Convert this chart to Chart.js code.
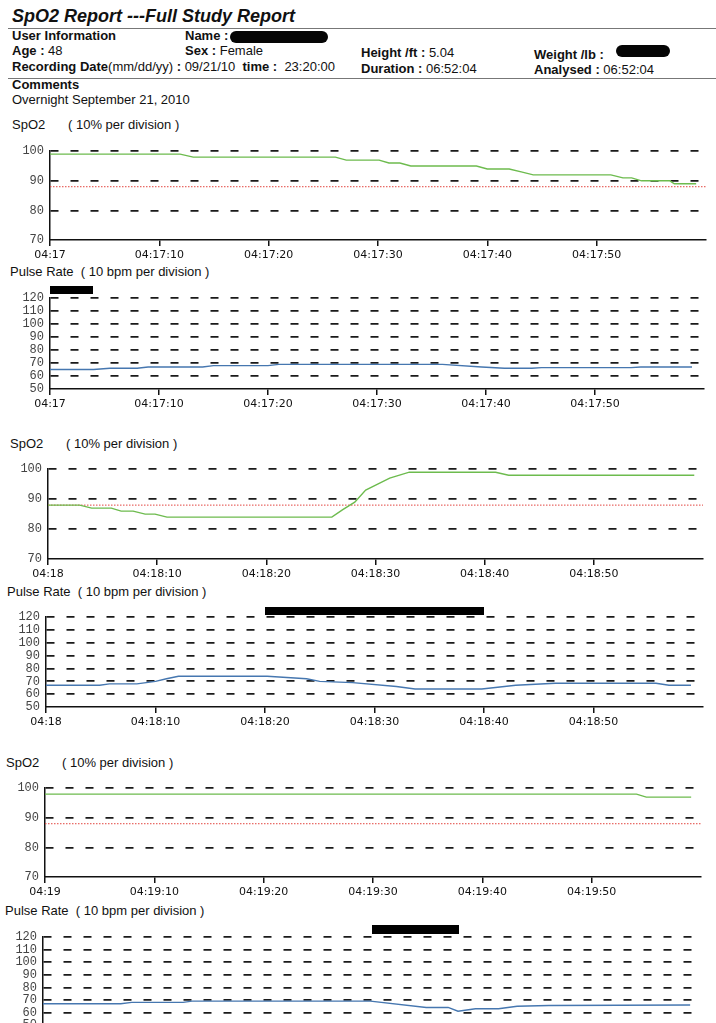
<!DOCTYPE html>
<html>
<head>
<meta charset="utf-8">
<script src="https://cdn.jsdelivr.net/npm/chart.js@4.4.0/dist/chart.umd.min.js"></script>
<style>
  html, body { margin: 0; padding: 0; background: #fff; }
  #page { position: relative; width: 716px; height: 1023px; overflow: hidden;
          font-family: "Liberation Sans", Arial, sans-serif; color: #111; }
  .t { position: absolute; white-space: pre; font-size: 13px; line-height: 16px; }
  .b { font-weight: bold; }
  .rule { position: absolute; height: 0; border-top: 1px solid #777; }
  .blk { position: absolute; background: #000; }
  .blob { position: absolute; background: #050505; border-radius: 7px; }
  canvas { position: absolute; left: 0; }
</style>
</head>
<body>
<div id="page">
  <div class="t b" style="left:12px;top:5px;font-size:18px;line-height:22px;font-style:italic">SpO2 Report ---Full Study Report</div>
  <div class="rule" style="left:8px;top:28px;width:708px"></div>

  <div class="t b" style="left:12px;top:28px">User Information</div>
  <div class="t b" style="left:185px;top:28px">Name :</div>
  <div class="blob" style="left:230px;top:31px;width:98px;height:12px"></div>

  <div class="t" style="left:12px;top:43px"><b>Age :</b> 48</div>
  <div class="t" style="left:185px;top:43px"><b>Sex :</b> Female</div>
  <div class="t" style="left:361px;top:45px"><b>Height /ft :</b> 5.04</div>
  <div class="t" style="left:534px;top:47px"><b>Weight /lb :</b></div>
  <div class="blob" style="left:616px;top:45px;width:54px;height:12px"></div>

  <div class="t" style="left:12px;top:59px"><b>Recording Date</b>(mm/dd/yy)<b> : </b>09/21/10  <b>time : </b> 23:20:00</div>
  <div class="t" style="left:361px;top:61px"><b>Duration :</b> 06:52:04</div>
  <div class="t" style="left:534px;top:62px"><b>Analysed :</b> 06:52:04</div>
  <div class="rule" style="left:8px;top:78px;width:708px"></div>

  <div class="t b" style="left:12px;top:77px">Comments</div>
  <div class="t" style="left:12px;top:92px">Overnight September 21, 2010</div>

  <div class="t" style="left:12px;top:117px">SpO2</div>
  <div class="t" style="left:68px;top:117px">( 10% per division )</div>
  <div class="t" style="left:10px;top:264px">Pulse Rate  ( 10 bpm per division )</div>

  <div class="t" style="left:10px;top:436px">SpO2</div>
  <div class="t" style="left:66px;top:436px">( 10% per division )</div>
  <div class="t" style="left:7px;top:584px">Pulse Rate  ( 10 bpm per division )</div>

  <div class="t" style="left:6px;top:755px">SpO2</div>
  <div class="t" style="left:62px;top:755px">( 10% per division )</div>
  <div class="t" style="left:5px;top:903px">Pulse Rate  ( 10 bpm per division )</div>

  <canvas id="spo2-1"></canvas>
  <canvas id="pulse-1"></canvas>
  <canvas id="spo2-2"></canvas>
  <canvas id="pulse-2"></canvas>
  <canvas id="spo2-3"></canvas>
  <canvas id="pulse-3"></canvas>

  <div class="blk" style="left:50px;top:286px;width:43px;height:8px"></div>
  <div class="blk" style="left:265px;top:607px;width:219px;height:8px"></div>
  <div class="blk" style="left:372px;top:925px;width:87px;height:9px"></div>
</div>
<script>
// minutes shown on the time axis of each block
const minutes = ['04:17', '04:18', '04:19'];
const spo2Threshold = 88;

// seconds after the minute / readings
const spo2Times1 = [0, 11.9, 13.1, 26.1, 27.1, 30.1, 31, 32, 33, 39, 40, 42, 43.1, 44.2, 51.3, 52.4, 53.2, 54.1, 56.7, 57.1, 59.1];
const spo2Values1 = [99, 99, 98, 98, 97, 97, 96, 96, 95, 95, 94, 94, 93, 92, 92, 91, 91, 90, 90, 89, 89];
const pulseTimes1 = [0, 4, 5.5, 8, 9, 14, 15, 20, 21, 36, 39.6, 41.7, 44.2, 45.1, 53.3, 54.2, 58.9];
const pulseValues1 = [65, 65, 66, 66, 67, 67, 68, 68, 69, 69, 67, 66, 66, 66.5, 66.5, 67, 67];

const spo2Times2 = [0, 2.9, 4.0, 5.8, 6.7, 7.8, 8.9, 9.8, 10.9, 26.0, 27.0, 28.1, 29.1, 31.3, 33.1, 41.0, 42.2, 59.2];
const spo2Values2 = [88, 88, 87, 87, 86, 86, 85, 85, 84, 84, 86.5, 89, 93, 97, 99, 99, 98, 98];
const pulseTimes2 = [0, 4.9, 5.8, 8.3, 10.0, 11.0, 12.1, 20.2, 22.0, 23.8, 25.0, 28.0, 32.0, 33.7, 39.8, 42.9, 46.5, 55.7, 56.9, 58.9];
const pulseValues2 = [67, 67, 68, 68, 70, 72, 74, 74, 73, 72, 70, 69, 66, 64, 64, 67, 68.5, 68.5, 67, 67];

const spo2Times3 = [0, 54.1, 55.0, 59.1];
const spo2Values3 = [98, 98, 97, 97];
const pulseTimes3 = [0, 7.1, 8.1, 12.8, 13.6, 29.9, 35.0, 37.0, 37.9, 39.5, 41.6, 43.3, 46.2, 59.1];
const pulseValues3 = [67, 67, 68, 68, 69, 69, 64, 64, 61, 63, 63, 65, 65.5, 66];

function drawPanel(canvasId, box, kind, minute, times, values) {
    const padTop = 8, axisH = 28;
    const canvas = document.getElementById(canvasId);
    canvas.width = 716;
    canvas.height = (box.bottom - box.top) + padTop + axisH;
    canvas.style.top = (box.top - padTop) + 'px';

    const isSpo2 = kind === 'spo2';
    const yMin = isSpo2 ? 70 : 50;
    const yMax = isSpo2 ? 100 : 120;

    const datasets = [{
        data: times.map((t, i) => ({ x: t, y: values[i] })),
        borderColor: isSpo2 ? '#6dbb4e' : '#4677b0',
        borderWidth: 1.4,
        pointRadius: 0,
        tension: 0,
        fill: false
    }];
    if (isSpo2) {
        datasets.push({
            data: [{ x: 0, y: spo2Threshold }, { x: 60, y: spo2Threshold }],
            borderColor: '#e2443e',
            borderWidth: 1,
            borderDash: [1.5, 1.5],
            pointRadius: 0,
            fill: false
        });
    }

    new Chart(canvas, {
        type: 'line',
        data: { datasets },
        options: {
            responsive: false,
            animation: false,
            layout: { padding: { top: padTop, left: 0, right: 716 - box.right, bottom: 0 } },
            plugins: { legend: { display: false }, tooltip: { enabled: false } },
            scales: {
                x: {
                    type: 'linear',
                    min: 0,
                    max: 60,
                    afterFit: s => { s.height = axisH; },
                    ticks: {
                        stepSize: 10,
                        autoSkip: false,
                        maxRotation: 0,
                        padding: 3,
                        color: '#111',
                        font: { family: 'DejaVu Sans', size: 11 },
                        callback: v => v === 60 ? null : (v === 0 ? minute : minute + ':' + String(v).padStart(2, '0'))
                    },
                    grid: { drawOnChartArea: false, drawTicks: true, tickLength: 6, color: '#111', lineWidth: 1.5 },
                    border: { color: '#111', width: 1.5 }
                },
                y: {
                    min: yMin,
                    max: yMax,
                    afterFit: s => { s.width = box.left; },
                    ticks: {
                        stepSize: 10,
                        autoSkip: false,
                        padding: 6,
                        color: '#444',
                        font: { family: 'Liberation Mono', size: 12 }
                    },
                    grid: {
                        drawTicks: false,
                        lineWidth: 1.7,
                        color: c => (c.tick && c.tick.value === yMin) ? 'rgba(0,0,0,0)' : '#1a1a1a'
                    },
                    border: { color: '#111', width: 1.5, dash: [8, 12] }
                }
            }
        }
    });
}

drawPanel('spo2-1', { top: 146, bottom: 240, left: 50, right: 706 }, 'spo2', minutes[0], spo2Times1, spo2Values1);
drawPanel('pulse-1', { top: 293, bottom: 389, left: 50, right: 704 }, 'pulse', minutes[0], pulseTimes1, pulseValues1);
drawPanel('spo2-2', { top: 464, bottom: 559, left: 48, right: 703 }, 'spo2', minutes[1], spo2Times2, spo2Values2);
drawPanel('pulse-2', { top: 612, bottom: 707, left: 46, right: 703 }, 'pulse', minutes[1], pulseTimes2, pulseValues2);
drawPanel('spo2-3', { top: 783, bottom: 877, left: 45, right: 701 }, 'spo2', minutes[2], spo2Times3, spo2Values3);
drawPanel('pulse-3', { top: 932, bottom: 1025, left: 43, right: 700 }, 'pulse', minutes[2], pulseTimes3, pulseValues3);
</script>
</body>
</html>
